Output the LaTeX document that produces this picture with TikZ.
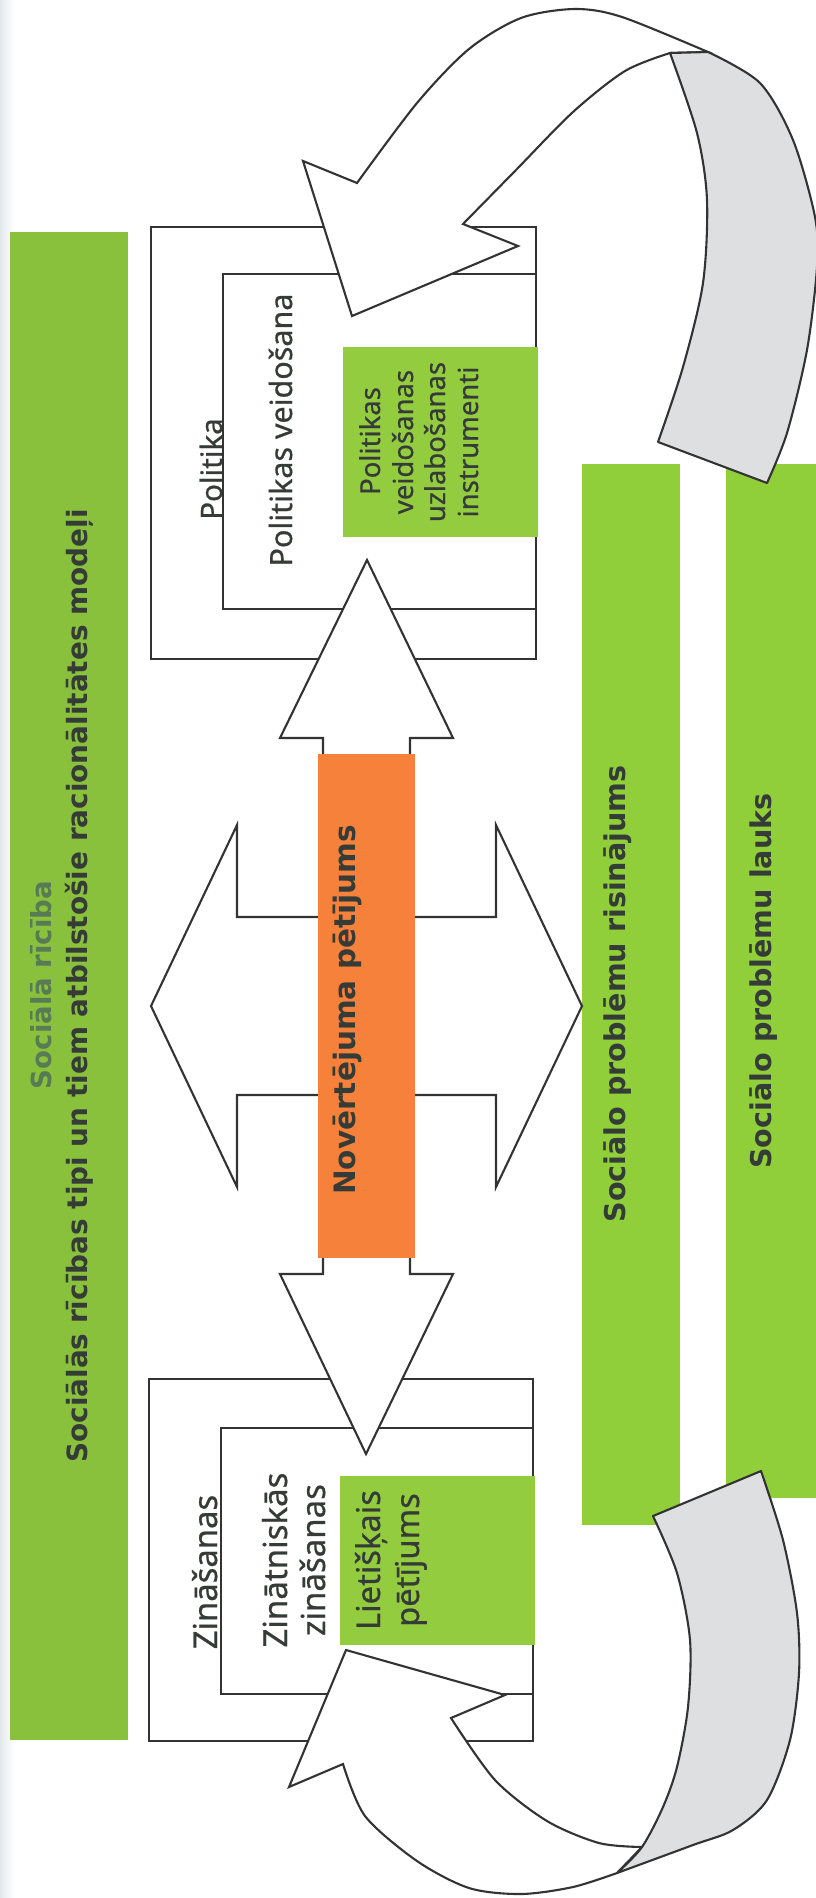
\documentclass[tikz,border=0pt]{standalone}
\usepackage{fontspec}
\setmainfont{Noto Sans}[FakeBold=0.6]
\newfontfamily\dvs{DejaVu Sans}
\definecolor{barL}{HTML}{89C13C}
\definecolor{barR}{HTML}{90CF3A}
\definecolor{gbox}{HTML}{94CC40}
\definecolor{orng}{HTML}{F5813B}
\definecolor{ribbon}{HTML}{DEDFE0}
\definecolor{linec}{HTML}{333333}
\definecolor{txtD}{HTML}{353B37}
\definecolor{txtL}{HTML}{587A55}
\definecolor{edge}{HTML}{E4E8EC}
\begin{document}
\begin{tikzpicture}[x=1pt,y=-1pt,
  boxline/.style={draw=linec,line width=2.1pt},
  arrowshape/.style={draw=linec,line width=2.1pt,fill=white,line join=miter},
  greyshape/.style={draw=linec,line width=2.1pt,fill=ribbon,line join=round},
  rtext/.style={rotate=90,anchor=base,inner sep=0pt,text=txtD},
  btext/.style={rtext,font=\dvs\bfseries}
]
\useasboundingbox[fill=white] (0,0) rectangle (816,1898);
\shade[left color=edge,right color=white] (0,0) rectangle (14,1898);

% green bars
\fill[barL] (10,232) rectangle (128,1740);
\fill[barR] (582,464) rectangle (680,1525);
\fill[barR] (726,464) rectangle (816,1498);

% Politika boxes
\draw[boxline] (151,227) rectangle (536,659);
\draw[boxline] (223,274) rectangle (536,609);
\fill[gbox] (343,347) rectangle (538,537);

% Zinasanas boxes
\draw[boxline] (149,1379) rectangle (533,1741);
\draw[boxline] (221,1428) rectangle (533,1694);
\fill[gbox] (340,1476) rectangle (535,1645);

% vertical double arrow
\draw[arrowshape] (367,560) -- (453,738) -- (410,738) -- (410,1274) -- (453,1274)
  -- (366,1454) -- (280,1274) -- (323,1274) -- (323,738) -- (280,738) -- cycle;
% horizontal double arrow
\draw[arrowshape] (151,1006) -- (237,825) -- (237,917) -- (496,917) -- (496,825)
  -- (582,1006) -- (496,1187) -- (496,1095) -- (237,1095) -- (237,1187) -- cycle;
% orange box
\fill[orng] (318,754) rectangle (415,1258);

% top curved arrow
\draw[arrowshape] (352,316) -- (303,161) -- (357,183)
  -- plot[smooth] coordinates {(357,183) (417,103) (469,49) (521,18) (575,9) (622,17) (708,52)}
  -- (670,53)
  -- plot[smooth] coordinates {(670,53) (625,71) (573,112) (516,170) (463,224)}
  -- (518,246) -- cycle;
\draw[greyshape] (670,53) -- (708,52)
  -- plot[smooth] coordinates {(708,52) (760,83) (793,140) (815,217) (817,267) (807,350) (787,433) (767,483)}
  -- (658,442)
  -- plot[smooth] coordinates {(658,442) (683,367) (703,283) (707,200) (697,133) (670,53)}
  -- cycle;

% bottom curved arrow
\draw[arrowshape] (346,1650) -- (505,1695) -- (451,1718)
  -- plot[smooth] coordinates {(451,1718) (495,1780) (547,1821) (599,1843) (642,1847)}
  -- (617,1873)
  -- plot[smooth] coordinates {(617,1873) (573,1887) (521,1894) (469,1888) (417,1861) (365,1816) (343,1764)}
  -- (289,1787) -- cycle;
\draw[greyshape] (653,1516) -- (761,1471)
  -- plot[smooth] coordinates {(761,1471) (783,1540) (797,1613) (799,1673) (790,1740) (767,1800) (733,1830) (693,1845) (617,1873)}
  -- plot[smooth] coordinates {(617,1873) (642,1847) (663,1807) (677,1767) (688,1707) (690,1640) (677,1573) (653,1516)}
  -- cycle;

% texts: left bar
\node[btext,text=txtL,font=\dvs\bfseries\fontsize{27.6}{33}\selectfont] (sr1) at (51,985) {Sociālā rīcība};
\node[btext,font=\dvs\bfseries\fontsize{27.9}{33}\selectfont] (sr2) at (87,986) {Sociālās rīcības tipi un tiem atbilstošie racionālitātes modeļi};
% orange
\node[btext,font=\dvs\bfseries\fontsize{29.5}{33}\selectfont] (nov) at (355,1010) {Novērtējuma pētījums};
% right bars
\node[btext,font=\dvs\bfseries\fontsize{28.6}{33}\selectfont] (spr) at (625,994) {Sociālo problēmu risinājums};
\node[btext,font=\dvs\bfseries\fontsize{28.6}{33}\selectfont] (spl) at (771,981) {Sociālo problēmu lauks};
% Politika
\node[rtext,font=\fontsize{29.5}{33}\selectfont] (pol) at (222,469) {Politika};
\node[rtext,font=\fontsize{30.5}{33}\selectfont] (pv) at (292,430) {Politikas veidošana};
\node[rtext,font=\fontsize{27.5}{33}\selectfont] (g1) at (380,441) {Politikas};
\node[rtext,font=\fontsize{27.5}{33}\selectfont] (g2) at (413,442) {veidošanas};
\node[rtext,font=\fontsize{27.5}{33}\selectfont] (g3) at (445,442) {uzlabošanas};
\node[rtext,font=\fontsize{27.5}{33}\selectfont] (g4) at (478,442) {instrumenti};
% Zinasanas
\node[rtext,font=\fontsize{32.8}{33}\selectfont] (zin) at (217,1572) {Zināšanas};
\node[rtext,font=\fontsize{33}{33}\selectfont] (zz1) at (287,1560) {Zinātniskās};
\node[rtext,font=\fontsize{33}{33}\selectfont] (zz2) at (325,1560) {zināšanas};
\node[rtext,font=\fontsize{32.7}{33}\selectfont] (lp1) at (380,1560) {Lietišķais};
\node[rtext,font=\fontsize{32.7}{33}\selectfont] (lp2) at (419,1560) {pētījums};
\end{tikzpicture}
\end{document}
